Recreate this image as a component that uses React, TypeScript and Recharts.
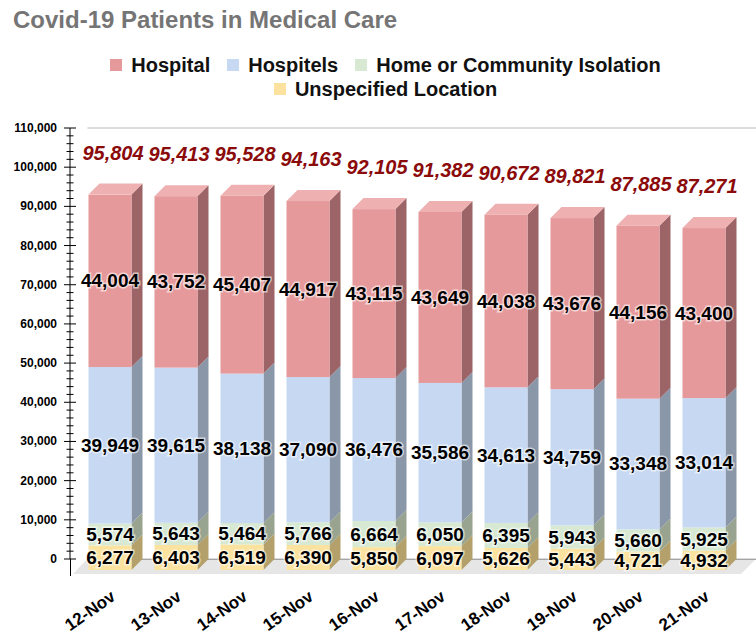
import { Bar, BarChart, CartesianGrid, LabelList, Legend, XAxis, YAxis } from "recharts";

const FONT = "'Liberation Sans', Arial, sans-serif";
const DEPTH = 11;

const days = ["12-Nov", "13-Nov", "14-Nov", "15-Nov", "16-Nov", "17-Nov", "18-Nov", "19-Nov", "20-Nov", "21-Nov"];
const hospital = [44004, 43752, 45407, 44917, 43115, 43649, 44038, 43676, 44156, 43400];
const hospitels = [39949, 39615, 38138, 37090, 36476, 35586, 34613, 34759, 33348, 33014];
const homeIsolation = [5574, 5643, 5464, 5766, 6664, 6050, 6395, 5943, 5660, 5925];
const unspecified = [6277, 6403, 6519, 6390, 5850, 6097, 5626, 5443, 4721, 4932];
const totals = [95804, 95413, 95528, 94163, 92105, 91382, 90672, 89821, 87885, 87271];

const majorTicks = [0, 10000, 20000, 30000, 40000, 50000, 60000, 70000, 80000, 90000, 100000, 110000];
// minor ticks every 2,000 between the labelled ones
const allTicks = majorTicks.flatMap((t, i) =>
  i === majorTicks.length - 1 ? [t] : [t, t + 2000, t + 4000, t + 6000, t + 8000]
);
// the zero line is drawn dark, so keep it out of the light grids
const minorGridTicks = allTicks.filter((t) => t > 0);
const majorGridTicks = majorTicks.filter((t) => t > 0);

const data = days.map((day, i) => ({
  day,
  hospital: hospital[i],
  hospitels: hospitels[i],
  home: homeIsolation[i],
  unspecified: unspecified[i],
  total: totals[i],
}));

const legendItems = [
  { name: "Hospital", color: "#e6999b" },
  { name: "Hospitels", color: "#c6d8f2" },
  { name: "Home or Community Isolation", color: "#d7e9d3" },
  { name: "Unspecified Location", color: "#fbe39f" },
];

const fmt = (v: any) => Number(v).toLocaleString("en-US");

// draws a stacked segment as a 3D box: back face is where the scale puts it
const box3d = (front: string, side: string, top?: string) => (props: any) => {
  const { x, y, width: w, height: h } = props;
  if (!w || h == null) return <g />;
  const d = DEPTH;
  return (
    <g>
      <polygon
        points={`${x + w - d},${y + d} ${x + w},${y} ${x + w},${y + h} ${x + w - d},${y + h + d}`}
        fill={side}
      />
      <rect x={x - d} y={y + d} width={w} height={h} fill={front} />
      {top && (
        <polygon points={`${x - d},${y + d} ${x},${y} ${x + w},${y} ${x + w - d},${y + d}`} fill={top} />
      )}
    </g>
  );
};

const SegmentLabel = (props: any) => {
  const { x, y, width, height, value } = props;
  const cx = x + width / 2 - DEPTH;
  const cy = y + height / 2 + DEPTH;
  return (
    <text
      x={cx}
      y={cy + 6.5}
      textAnchor="middle"
      fontSize={19}
      fontWeight="bold"
      fontFamily={FONT}
      fill="#000"
      stroke="#fff"
      strokeOpacity={0.6}
      strokeWidth={3}
      paintOrder="stroke"
    >
      {fmt(value)}
    </text>
  );
};

const TotalLabel = (props: any) => {
  const { x, y, width, value } = props;
  return (
    <text
      x={x + width / 2 - 8}
      y={y - 31 + 7}
      textAnchor="middle"
      fontSize={20}
      fontWeight="bold"
      fontStyle="italic"
      fontFamily={FONT}
      fill="#8b0a0a"
    >
      {fmt(value)}
    </text>
  );
};

const YTick = (props: any) => {
  const { y, payload } = props;
  const v = payload.value;
  const major = v % 10000 === 0;
  return (
    <g>
      <line x1={major ? 64 : 66.5} x2={major ? 76 : 73.5} y1={y} y2={y} stroke="#000" />
      {major && (
        <text x={57} y={y + 4} textAnchor="end" fontSize={12} fontWeight="bold" fontFamily={FONT} fill="#000">
          {fmt(v)}
        </text>
      )}
    </g>
  );
};

const XTick = (props: any) => {
  const { x, y, payload } = props;
  const tx = x - 4;
  const ty = y + 40;
  return (
    <text
      x={tx}
      y={ty}
      transform={`rotate(-35, ${tx}, ${ty})`}
      textAnchor="end"
      fontSize={17}
      fontWeight="bold"
      fontFamily={FONT}
      fill="#000"
    >
      {payload.value}
    </text>
  );
};

const LegendContent = () => (
  <div
    style={{
      width: 600,
      margin: "0 auto",
      display: "flex",
      flexWrap: "wrap",
      justifyContent: "center",
      columnGap: 17,
      fontFamily: FONT,
      fontWeight: "bold",
      fontSize: 20,
      lineHeight: "24px",
      color: "#111",
    }}
  >
    {legendItems.map((it) => (
      <div key={it.name} style={{ display: "flex", alignItems: "center" }}>
        <span style={{ width: 12, height: 12, background: it.color, marginRight: 9, display: "inline-block" }} />
        <span>{it.name}</span>
      </div>
    ))}
  </div>
);

export default function App() {
  return (
    <div style={{ position: "absolute", left: 0, top: 0, width: 756, height: 639, background: "#fff" }}>
      {/* floor of the 3D plot, drawn behind the chart */}
      <svg width={756} height={639} style={{ position: "absolute", left: 0, top: 0 }}>
        <polygon points="87,559 756,559 741,574 73,574" fill="#e6e6e6" />
        <line x1={87} x2={756} y1={559.5} y2={559.5} stroke="#222" />
        <line x1={70.5} x2={70.5} y1={559} y2={576} stroke="#000" />
      </svg>
      <BarChart
        width={756}
        height={639}
        data={data}
        margin={{ top: 128, right: 8.5, bottom: 50, left: 0 }}
        barSize={43}
      >
        <CartesianGrid vertical={false} stroke="#e4e4e4" x={87.5} width={668.5} yAxisId="minor" />
        <CartesianGrid vertical={false} stroke="#c6c6c6" x={87.5} width={668.5} yAxisId="major" />
        <XAxis
          dataKey="day"
          padding={{ left: 17.5, right: 0 }}
          axisLine={false}
          tickLine={false}
          tickSize={0}
          tickMargin={0}
          height={30}
          interval={0}
          tick={<XTick />}
        />
        <YAxis
          width={70}
          domain={[0, 110000]}
          ticks={allTicks}
          interval={0}
          tickLine={false}
          axisLine={{ stroke: "#000" }}
          tick={<YTick />}
        />
        <YAxis yAxisId="minor" hide domain={[0, 110000]} ticks={minorGridTicks} interval={0} />
        <YAxis yAxisId="major" hide domain={[0, 110000]} ticks={majorGridTicks} interval={0} />
        <Legend
          layout="horizontal"
          verticalAlign="middle"
          align="center"
          wrapperStyle={{ top: 53, left: 0, width: 771 }}
          content={<LegendContent />}
        />
        <Bar
          dataKey="unspecified"
          stackId="a"
          isAnimationActive={false}
          fill="#fbe39f"
          shape={box3d("#fbe39f", "#b3a06a")}
        >
          <LabelList dataKey="unspecified" content={<SegmentLabel />} />
        </Bar>
        <Bar dataKey="home" stackId="a" isAnimationActive={false} fill="#d7e9d3" shape={box3d("#d7e9d3", "#98a48f")}>
          <LabelList dataKey="home" content={<SegmentLabel />} />
        </Bar>
        <Bar
          dataKey="hospitels"
          stackId="a"
          isAnimationActive={false}
          fill="#c6d8f2"
          shape={box3d("#c6d8f2", "#8a97a9")}
        >
          <LabelList dataKey="hospitels" content={<SegmentLabel />} />
        </Bar>
        <Bar
          dataKey="hospital"
          stackId="a"
          isAnimationActive={false}
          fill="#e6999b"
          shape={box3d("#e6999b", "#9c6466", "#eeb0b1")}
        >
          <LabelList dataKey="hospital" content={<SegmentLabel />} />
          <LabelList dataKey="total" content={<TotalLabel />} />
        </Bar>
      </BarChart>
      <div
        style={{
          position: "absolute",
          left: 13,
          top: 8,
          fontFamily: FONT,
          fontSize: 24,
          lineHeight: "24px",
          fontWeight: "bold",
          color: "#757575",
          whiteSpace: "nowrap",
        }}
      >
        Covid-19 Patients in Medical Care
      </div>
    </div>
  );
}
